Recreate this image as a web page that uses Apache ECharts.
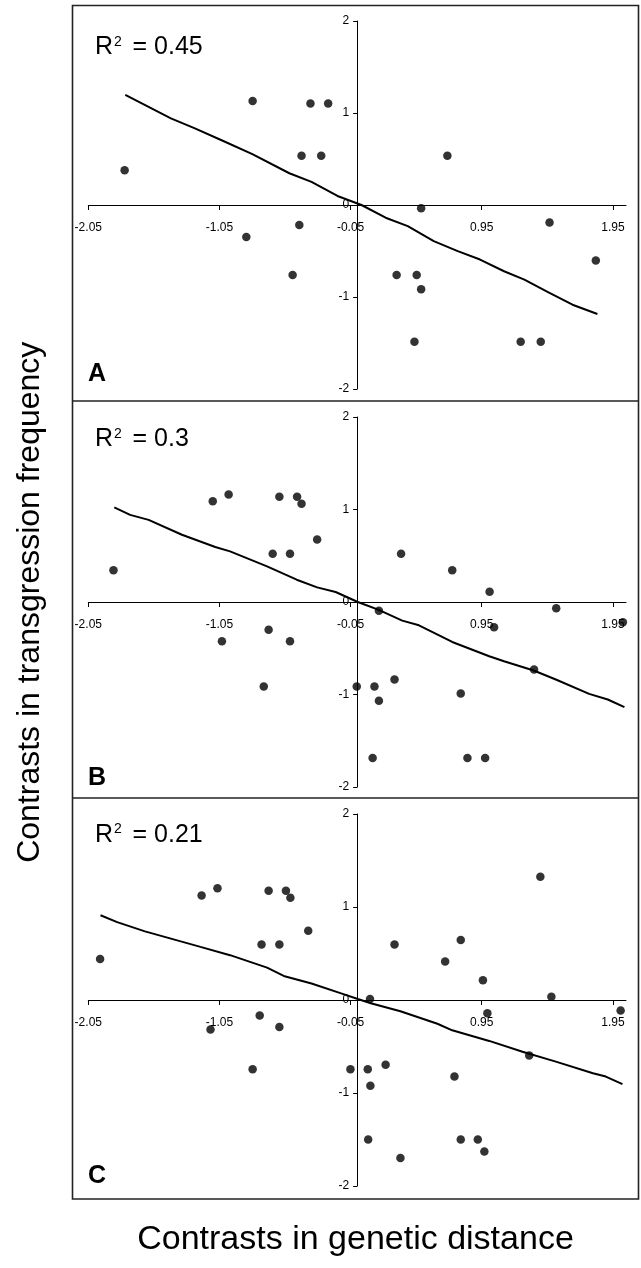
<!DOCTYPE html>
<html>
<head>
<meta charset="utf-8">
<script src="https://cdn.jsdelivr.net/npm/echarts@6/dist/echarts.min.js"></script>
<style>
	html, body { margin: 0; padding: 0; background: #fff; }
	#main { width: 641px; height: 1268px; }
</style>
</head>
<body>
<div id="main"></div>
<script>
// axis ticks
var xTicks = [-2.05, -1.05, -0.05, 0.95, 1.95];
var yTicks = [-2, -1, 0, 1, 2];

var panelLetters = ['A', 'B', 'C'];
var r2Values = ['0.45', '0.3', '0.21'];

// panel A
var pointsA = [
	[-1.773, 0.378], [-0.797, 1.131], [-0.356, 1.102], [-0.221, 1.102],
	[-0.424, 0.535], [-0.274, 0.535], [0.688, 0.535], [0.488, -0.036],
	[-0.441, -0.218], [-0.845, -0.349], [1.467, -0.189], [1.820, -0.604],
	[-0.492, -0.760], [0.301, -0.760], [0.454, -0.760], [0.488, -0.916],
	[0.437, -1.487], [1.247, -1.487], [1.400, -1.487]
];
var fitA = [
	[-1.768, 1.196], [-1.420, 0.942], [-1.237, 0.833], [-1.025, 0.698],
	[-0.799, 0.553], [-0.517, 0.345], [-0.348, 0.251], [-0.150, 0.098],
	[0.033, 0], [0.217, -0.138], [0.386, -0.229], [0.584, -0.393],
	[0.767, -0.502], [0.937, -0.593], [1.120, -0.720], [1.275, -0.811],
	[1.459, -0.949], [1.642, -1.084], [1.832, -1.185]
];

// panel B
var pointsB = [
	[-1.858, 0.342], [-1.101, 1.090], [-0.980, 1.162], [-0.593, 1.137],
	[-0.458, 1.137], [-0.424, 1.061], [-0.305, 0.676], [-0.644, 0.522],
	[-0.512, 0.522], [0.335, 0.522], [0.725, 0.342], [1.010, 0.112],
	[0.166, -0.094], [1.518, -0.068], [2.026, -0.219], [1.044, -0.273],
	[-0.675, -0.299], [-1.031, -0.424], [-0.512, -0.424], [1.349, -0.730],
	[-0.712, -0.914], [-0.003, -0.914], [0.132, -0.914], [0.285, -0.838],
	[0.166, -1.068], [0.790, -0.989], [0.118, -1.686], [0.841, -1.686],
	[0.976, -1.686]
];
var fitB = [
	[-1.852, 1.022], [-1.731, 0.942], [-1.590, 0.888], [-1.336, 0.727],
	[-1.082, 0.594], [-0.969, 0.547], [-0.687, 0.385], [-0.461, 0.241],
	[-0.305, 0.158], [-0.164, 0.108], [0.005, 0], [0.160, -0.083],
	[0.344, -0.201], [0.471, -0.252], [0.725, -0.432], [1.007, -0.586],
	[1.120, -0.640], [1.346, -0.741], [1.515, -0.838], [1.769, -0.993],
	[1.911, -1.054], [2.038, -1.137]
];

// panel C
var pointsC = [
	[-1.960, 0.440], [-1.186, 1.124], [-1.065, 1.202], [-0.675, 1.174],
	[-0.543, 1.174], [-0.509, 1.099], [-0.373, 0.745], [-0.729, 0.596],
	[-0.593, 0.596], [0.285, 0.596], [0.790, 0.645], [0.671, 0.415],
	[1.397, 1.326], [0.959, 0.213], [0.098, 0.011], [1.481, 0.035],
	[0.993, -0.142], [2.009, -0.113], [-0.743, -0.167], [-1.118, -0.316],
	[-0.593, -0.291], [1.312, -0.596], [-0.797, -0.745], [-0.051, -0.745],
	[0.081, -0.745], [0.217, -0.695], [0.101, -0.922], [0.742, -0.823],
	[0.084, -1.50], [0.330, -1.70], [0.790, -1.50], [0.920, -1.50],
	[0.970, -1.63]
];
var fitC = [
	[-1.957, 0.911], [-1.830, 0.837], [-1.618, 0.738], [-1.420, 0.660],
	[-1.195, 0.571], [-0.969, 0.482], [-0.687, 0.348], [-0.560, 0.259],
	[-0.348, 0.177], [-0.122, 0.071], [0.005, 0.011], [0.104, -0.035],
	[0.330, -0.121], [0.612, -0.255], [0.725, -0.326], [1.007, -0.440],
	[1.261, -0.557], [1.515, -0.663], [1.798, -0.787], [1.896, -0.823],
	[2.023, -0.904]
];

var allPoints = [pointsA, pointsB, pointsC];
var allFits = [fitA, fitB, fitC];

// layout of the three stacked panels (pixels)
var FONT = 'Liberation Sans, Arial, Helvetica, sans-serif';
var X_MIN = -2.05, X_MAX = 2.05;
var gridLeft = 88.3, gridRight = 15;
var gridWidth = 641 - gridLeft - gridRight;
var grids = [
	{ top: 21, height: 368 },
	{ top: 417, height: 370 },
	{ top: 814, height: 372 }
];
var boxLeft = 72.5, boxRight = 638.5;
var boxEdges = [5.5, 401, 798, 1199];
var letterY = [374, 778, 1176];
var r2Y = [47.5, 439.5, 835];
var r2X = 95;

// axes cross at (0, 0): move them into the plot with offsets
var yAxisOffset = -gridWidth * (0 - X_MIN) / (X_MAX - X_MIN);

var option = {
	animation: false,
	backgroundColor: '#fff',
	textStyle: { fontFamily: FONT },
	grid: [],
	xAxis: [],
	yAxis: [],
	series: [],
	graphic: []
};

for (var i = 0; i < 3; i++) {
	option.grid.push({
		left: gridLeft, right: gridRight, top: grids[i].top, height: grids[i].height,
		outerBoundsMode: 'none'
	});
	option.xAxis.push({
		type: 'value', gridIndex: i, min: X_MIN, max: X_MAX,
		position: 'bottom', offset: -grids[i].height / 2,
		axisLine: { onZero: false, lineStyle: { color: '#000', width: 1 } },
		axisTick: { show: true, length: 5, customValues: xTicks, lineStyle: { color: '#000' } },
		axisLabel: {
			customValues: xTicks, margin: 17, color: '#000', fontSize: 12, fontFamily: FONT,
			formatter: function(v) { return v.toFixed(2); }
		},
		splitLine: { show: false }
	});
	option.yAxis.push({
		type: 'value', gridIndex: i, min: -2, max: 2, interval: 1,
		position: 'left', offset: yAxisOffset,
		axisLine: { onZero: false, lineStyle: { color: '#000', width: 1 } },
		axisTick: { show: true, length: 4, customValues: yTicks, lineStyle: { color: '#000' } },
		axisLabel: { customValues: yTicks, margin: 8, color: '#000', fontSize: 12, fontFamily: FONT },
		splitLine: { show: false }
	});
	option.series.push({
		type: 'line', xAxisIndex: i, yAxisIndex: i,
		data: allFits[i], symbol: 'none', silent: true,
		lineStyle: { color: '#000', width: 2 }
	});
	option.series.push({
		type: 'scatter', xAxisIndex: i, yAxisIndex: i,
		data: allPoints[i], symbol: 'circle', symbolSize: 8.5,
		itemStyle: { color: '#000' }
	});
	// R² labels: "R", superscript "2", then the value
	option.graphic.push({
		type: 'text', x: r2X, y: r2Y[i],
		style: { text: 'R', font: '25px ' + FONT, fill: '#000', verticalAlign: 'middle' }
	});
	option.graphic.push({
		type: 'text', x: r2X + 19, y: r2Y[i] - 5.5,
		style: { text: '2', font: '14px ' + FONT, fill: '#000', verticalAlign: 'middle' }
	});
	option.graphic.push({
		type: 'text', x: r2X + 37.5, y: r2Y[i],
		style: { text: '= ' + r2Values[i], font: '25px ' + FONT, fill: '#000', verticalAlign: 'middle' }
	});
	// panel letter
	option.graphic.push({
		type: 'text', x: 88, y: letterY[i],
		style: { text: panelLetters[i], font: 'bold 25px ' + FONT, fill: '#000', verticalAlign: 'middle' }
	});
}

// panel frames
option.graphic.push({
	type: 'rect', z: 10,
	shape: { x: boxLeft, y: boxEdges[0], width: boxRight - boxLeft, height: boxEdges[3] - boxEdges[0] },
	style: { fill: 'none', stroke: '#222', lineWidth: 1.6 }
});
for (var j = 1; j < 3; j++) {
	option.graphic.push({
		type: 'line', z: 10,
		shape: { x1: boxLeft, y1: boxEdges[j], x2: boxRight, y2: boxEdges[j] },
		style: { stroke: '#222', lineWidth: 1.6 }
	});
}

// axis titles
option.graphic.push({
	type: 'text', x: 30, y: (boxEdges[0] + boxEdges[3]) / 2, rotation: Math.PI / 2,
	style: { text: 'Contrasts in transgression frequency', font: '32px ' + FONT, fill: '#000', align: 'center', verticalAlign: 'middle' }
});
option.graphic.push({
	type: 'text', x: (boxLeft + boxRight) / 2, y: 1240,
	style: { text: 'Contrasts in genetic distance', font: '34px ' + FONT, fill: '#000', align: 'center', verticalAlign: 'middle' }
});

var chart = echarts.init(document.getElementById('main'));
chart.setOption(option);
</script>
</body>
</html>
